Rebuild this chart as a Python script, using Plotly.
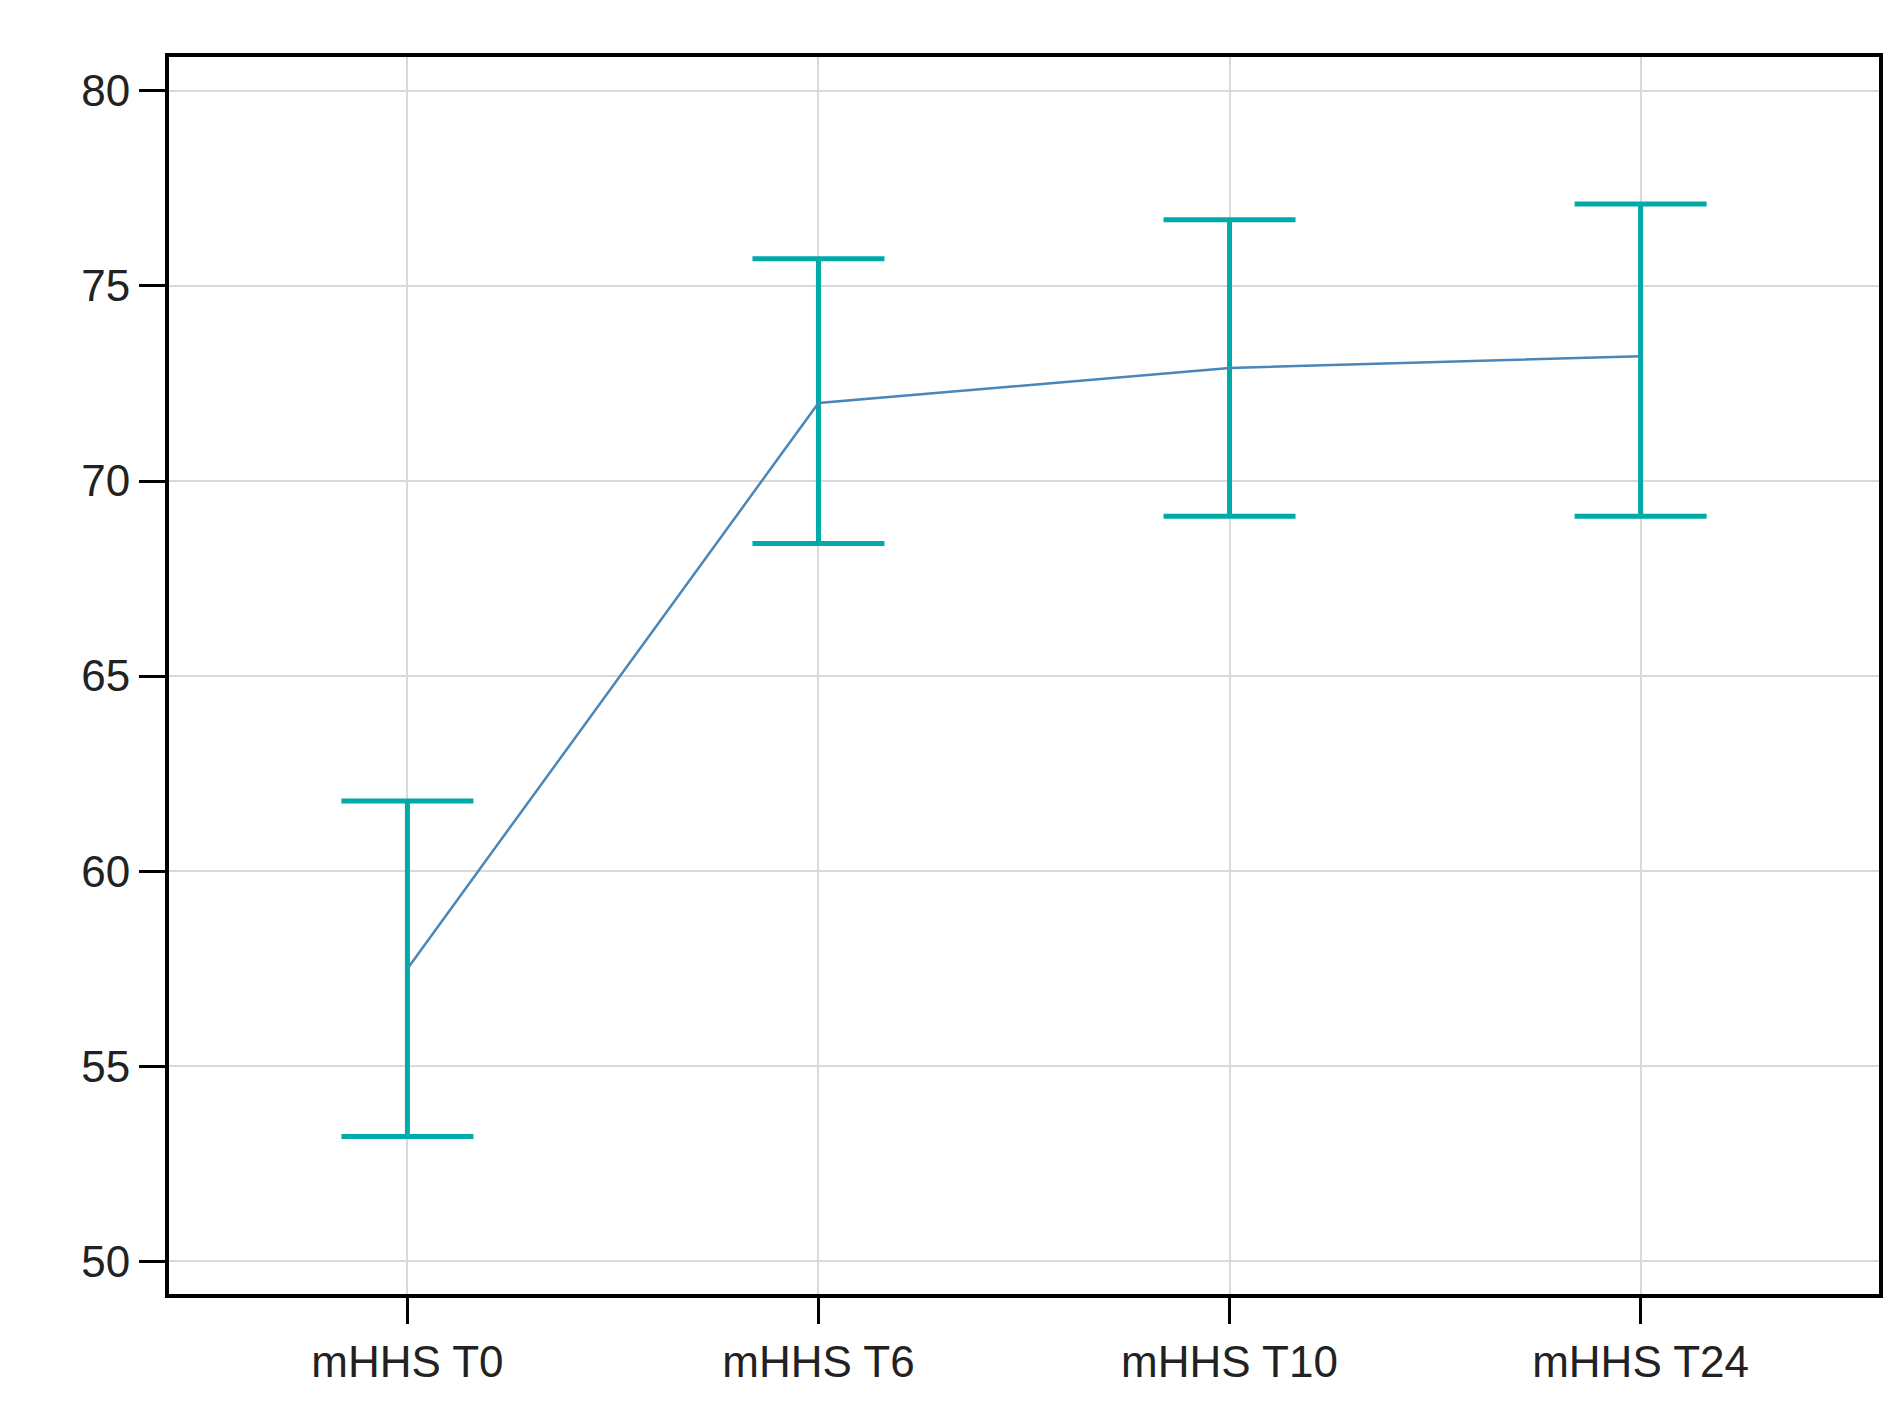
import plotly.graph_objects as go

# mHHS scores over follow-up
labels = ["mHHS T0", "mHHS T6", "mHHS T10", "mHHS T24"]
means = [57.5, 72.0, 72.9, 73.2]
upper = [61.8, 75.7, 76.7, 77.1]
lower = [53.2, 68.4, 69.1, 69.1]

err_plus = [u - m for u, m in zip(upper, means)]
err_minus = [m - l for m, l in zip(means, lower)]

fig = go.Figure()
fig.add_trace(go.Scatter(
    x=list(range(len(labels))), y=means, mode="lines",
    line=dict(color="#4a86b8", width=2.5),
    error_y=dict(type="data", symmetric=False, array=err_plus, arrayminus=err_minus,
                 color="#00aaa8", thickness=5, width=66),
    showlegend=False,
))

axis_font = dict(family="Liberation Sans, Arial", size=44, color="#222")
fig.update_xaxes(range=[-0.58, 3.58], tickvals=list(range(len(labels))), ticktext=labels,
                 showgrid=True, gridcolor="#d9d9d9", gridwidth=1.5,
                 ticks="outside", ticklen=26, tickwidth=3, tickcolor="black",
                 showline=True, linecolor="black", linewidth=4, mirror=True,
                 tickfont=axis_font, zeroline=False)
fig.update_yaxes(range=[49.16, 80.87], tickvals=[50, 55, 60, 65, 70, 75, 80],
                 showgrid=True, gridcolor="#d9d9d9", gridwidth=1.5,
                 ticks="outside", ticklen=26, tickwidth=3, tickcolor="black",
                 showline=True, linecolor="black", linewidth=4, mirror=True,
                 tickfont=axis_font, zeroline=False)
fig.update_layout(width=1899, height=1426, paper_bgcolor="white", plot_bgcolor="white",
                  margin=dict(l=161, r=28, t=49, b=140))
fig.write_html("out.html")
